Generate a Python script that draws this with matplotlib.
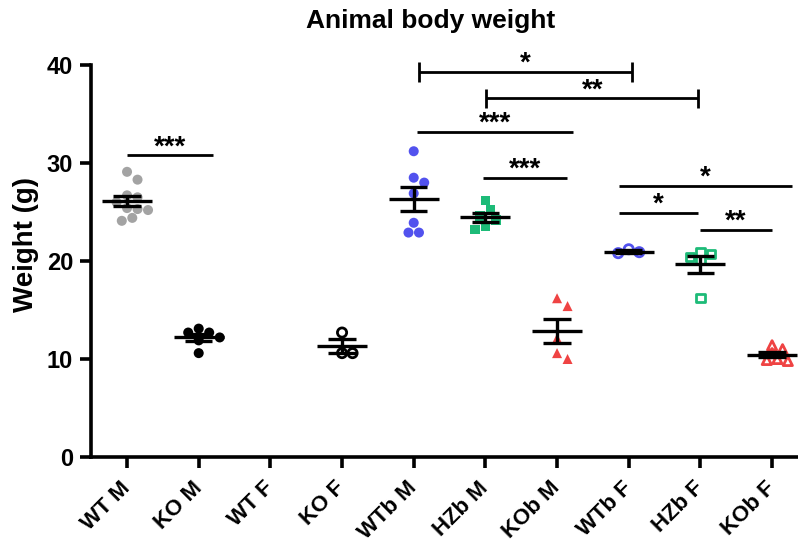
import numpy as np
import matplotlib
matplotlib.use("Agg")
import matplotlib.pyplot as plt

plt.rcParams['font.family'] = ['Liberation Sans', 'DejaVu Sans']
plt.rcParams['font.weight'] = 'bold'

# ---------------- data ----------------
categories = ["WT M", "KO M", "WT F", "KO F", "WTb M", "HZb M", "KOb M", "WTb F", "HZb F", "KOb F"]

wt_m = [29.1, 28.3, 26.7, 26.5, 26.0, 25.4, 25.3, 25.2, 24.4, 24.1]
ko_m = [13.1, 12.7, 12.7, 12.2, 11.9, 10.6]
wt_f = []
ko_f = [12.7, 10.6, 10.6]
wtb_m = [31.2, 28.5, 28.0, 26.9, 23.9, 22.9, 22.9]
hzb_m = [26.2, 25.2, 24.6, 24.2, 23.5, 23.2]
kob_m = [16.2, 15.4, 12.1, 10.6, 10.0]
wtb_f = [21.2, 20.9, 20.8]
hzb_f = [20.9, 20.7, 20.4, 20.1, 16.2]
kob_f = [11.4, 11.0, 10.6, 10.0, 9.9, 9.8]

# significance comparisons: (start, end, height, label, end ticks)
sig_start = [0.0, 4.07, 5.01, 4.05, 4.97, 6.86, 6.86, 7.99]
sig_end = [1.2, 7.05, 7.97, 6.22, 6.14, 9.28, 7.97, 9.0]
sig_height = [30.8, 39.3, 36.6, 33.2, 28.5, 27.7, 24.9, 23.2]
sig_label = ["***", "*", "**", "***", "***", "*", "*", "**"]
sig_caps = [False, True, True, False, False, False, False, False]

yticks = [0, 10, 20, 30, 40]

# ---------------- styles ----------------
groups = [wt_m, ko_m, wt_f, ko_f, wtb_m, hzb_m, kob_m, wtb_f, hzb_f, kob_f]
marker_shape = ['o', 'o', 'o', 'o', 'o', 's', '^', 'o', 's', '^']
marker_color = ['#a3a3a3', '#000000', '#000000', '#000000', '#5252ee',
                '#1dbb78', '#ef4343', '#5252ee', '#1dbb78', '#ef4343']
marker_filled = [True, True, True, False, True, True, True, False, False, False]

W, H, DPI = 7.98, 5.44, 100
fig = plt.figure(figsize=(W, H), dpi=DPI)
left_px, bottom_px = 91.2, 457.0
xlim = (-0.5, 9.4)
ylim = (0, 42)
ppx = 71.67  # px per x unit
ppy = 9.8    # px per y unit
ax_w = (xlim[1] - xlim[0]) * ppx
ax_h = (ylim[1] - ylim[0]) * ppy
ax = fig.add_axes([left_px / (W * DPI), 1 - bottom_px / (H * DPI),
                   ax_w / (W * DPI), ax_h / (H * DPI)])
ax.set_xlim(*xlim)
ax.set_ylim(*ylim)


def swarm(vals, diam_px, overlap):
    """simple beeswarm offsets (data units); markers may overlap partially"""
    vals = np.asarray(vals, float)
    order = np.argsort(-vals)
    placed = []
    offs = np.zeros(len(vals))
    step = diam_px * 0.5
    cands = [0.0]
    for k in range(1, 12):
        cands += [k * step, -k * step]
    thr = diam_px * overlap
    for i in order:
        yp = vals[i] * ppy
        for c in cands:
            ok = True
            for (px_, py_) in placed:
                if (px_ - c) ** 2 + (py_ - yp) ** 2 < thr ** 2:
                    ok = False
                    break
            if ok:
                offs[i] = c / ppx
                placed.append((c, yp))
                break
    return offs


for i, vals in enumerate(groups):
    if len(vals) == 0:
        continue
    vals = np.asarray(vals, float)
    offs = swarm(vals, 10.5, 0.95 if marker_filled[i] else 0.7)
    col = marker_color[i]
    if marker_filled[i]:
        ax.scatter(i + offs, vals, marker=marker_shape[i], s=52 if marker_shape[i] != 's' else 46,
                   color=col, edgecolors='none', zorder=2, clip_on=False)
    else:
        ax.scatter(i + offs, vals, marker=marker_shape[i], s=44 if marker_shape[i] != 's' else 36,
                   facecolors='none', edgecolors=col, linewidths=2.0, zorder=2, clip_on=False)
    m = vals.mean()
    sem = vals.std(ddof=1) / np.sqrt(len(vals)) if len(vals) > 1 else 0
    ax.hlines(m, i - 0.35, i + 0.35, color='black', lw=2.4, zorder=3)
    ax.vlines(i, m - sem, m + sem, color='black', lw=2.4, zorder=3)
    ax.hlines([m - sem, m + sem], i - 0.19, i + 0.19, color='black', lw=2.4, zorder=3)

# significance bars
for x1, x2, h, lab, cap in zip(sig_start, sig_end, sig_height, sig_label, sig_caps):
    ax.plot([x1, x2], [h, h], color='black', lw=2.0, solid_capstyle='butt', zorder=4, clip_on=False)
    if cap:
        ax.vlines([x1, x2], h - 1.0, h + 1.0, color='black', lw=2.0, zorder=4)
    ax.text((x1 + x2) / 2, h + 0.1, lab, ha='center', va='baseline', fontsize=20,
            fontweight='bold', zorder=5)

# axes styling
for s in ['top', 'right']:
    ax.spines[s].set_visible(False)
ax.spines['left'].set_bounds(0, 40)
ax.spines['left'].set_linewidth(2.6)
ax.spines['bottom'].set_linewidth(2.6)
ax.set_yticks(yticks)
ax.set_yticklabels([str(t) for t in yticks], fontsize=17, fontweight='bold')
ax.set_xticks(range(len(categories)))
ax.set_xticklabels(categories, fontsize=16, fontweight='bold', rotation=45,
                   ha='right', va='center', rotation_mode='anchor')
ax.tick_params(axis='both', width=2.6, length=8, direction='out')
ax.tick_params(axis='y', pad=5)
ax.tick_params(axis='x', pad=12)

fig.text(0.54, 0.962, "Animal body weight", ha='center', va='center',
         fontsize=19, fontweight='bold')
fig.text(26 / 798, 0.55, "Weight (g)", ha='center', va='center', rotation=90,
         fontsize=20, fontweight='bold')

fig.savefig("out.png", dpi=DPI)
